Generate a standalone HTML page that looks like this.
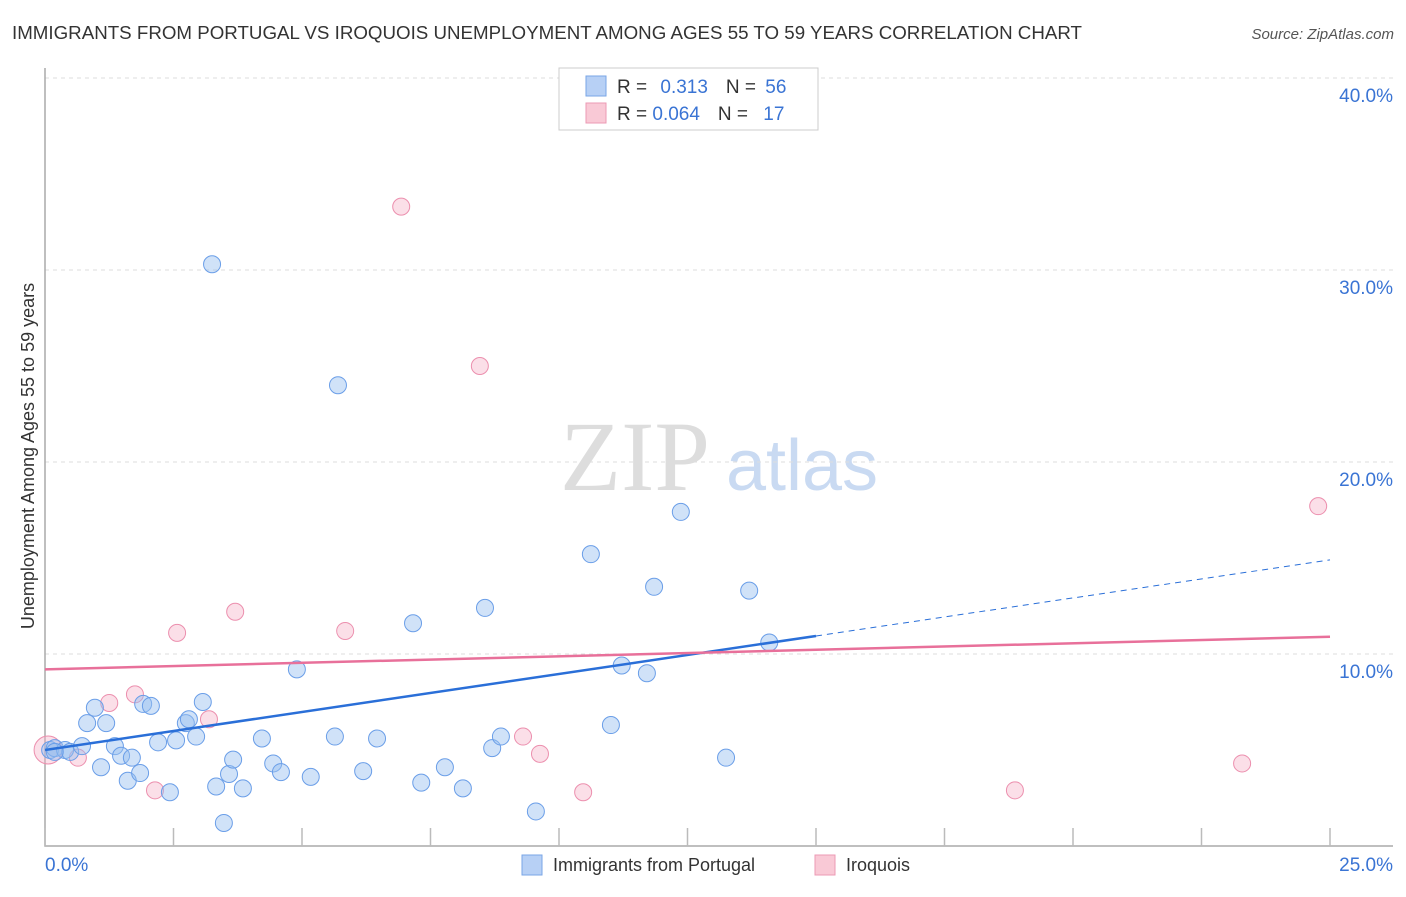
<!DOCTYPE html><html><head><meta charset="utf-8"><style>
body{margin:0;background:#fff;font-family:"Liberation Sans",sans-serif}
</style></head><body>
<svg id="c" width="1406" height="892" font-family="Liberation Sans, sans-serif">
<text x="12" y="39" font-size="18" fill="#333" textLength="1070" lengthAdjust="spacingAndGlyphs">IMMIGRANTS FROM PORTUGAL VS IROQUOIS UNEMPLOYMENT AMONG AGES 55 TO 59 YEARS CORRELATION CHART</text>
<text x="1394" y="39" font-size="15" fill="#555" text-anchor="end" font-style="italic">Source: ZipAtlas.com</text>
<text x="635" y="490" font-size="100" fill="#ddd" font-family="Liberation Serif, serif" text-anchor="middle">ZIP</text>
<text x="802" y="490" font-size="72" fill="#c9daf2" text-anchor="middle">atlas</text>
<text transform="translate(34,456) rotate(-90)" font-size="18" fill="#333" text-anchor="middle">Unemployment Among Ages 55 to 59 years</text>
<g id="grid"></g><g id="pts"></g><g id="lines"></g>
<g>
<rect x="559" y="68" width="259" height="62" fill="#fff" stroke="#ccc"/>
<rect x="586" y="76" width="20" height="20" fill="#b7d0f5" stroke="#7aa6e6"/>
<rect x="586" y="103" width="20" height="20" fill="#f9c9d6" stroke="#ec9ab4"/>
<text x="617" y="93" font-size="19" fill="#333">R = <tspan fill="#3a74d4" dx="8">0.313</tspan><tspan fill="#333" dx="18">N = </tspan><tspan fill="#3a74d4" dx="4">56</tspan></text>
<text x="617" y="120" font-size="19" fill="#333">R = <tspan fill="#3a74d4">0.064</tspan><tspan fill="#333" dx="18">N = </tspan><tspan fill="#3a74d4" dx="10">17</tspan></text>
</g>
<g>
<rect x="522" y="855" width="20" height="20" fill="#b7d0f5" stroke="#7aa6e6"/>
<text x="553" y="871" font-size="18" fill="#333">Immigrants from Portugal</text>
<rect x="815" y="855" width="20" height="20" fill="#f9c9d6" stroke="#ec9ab4"/>
<text x="846" y="871" font-size="18" fill="#333">Iroquois</text>
</g>
</svg>
<script>
const blueX=[0.10,0.19,0.39,0.49,0.72,0.97,0.82,1.19,1.09,1.36,1.48,1.69,1.61,1.85,1.91,2.06,2.20,2.43,2.55,2.74,2.80,2.94,3.07,3.25,3.33,3.48,3.58,3.66,3.85,4.22,4.44,4.59,4.90,5.17,5.64,5.70,6.19,6.46,7.16,7.32,7.78,8.13,8.56,8.70,8.87,9.55,10.62,11.01,11.22,11.71,11.85,12.37,13.25,13.70,14.09,0.19];
const blueY=[5.0,5.1,5.0,4.9,5.2,7.2,6.4,6.4,4.1,5.2,4.7,4.6,3.4,3.8,7.4,7.3,5.4,2.8,5.5,6.4,6.6,5.7,7.5,30.3,3.1,1.2,3.75,4.5,3.0,5.6,4.3,3.85,9.2,3.6,5.7,24.0,3.9,5.6,11.6,3.3,4.1,3.0,12.4,5.1,5.7,1.8,15.2,6.3,9.4,9.0,13.5,17.4,4.6,13.3,10.6,4.9];
const pinkX=[0.06,0.64,1.25,1.75,2.14,2.57,3.19,3.70,5.84,6.93,8.46,9.30,9.63,10.47,18.87,23.29,24.77];
const pinkY=[5.0,4.6,7.45,7.9,2.9,11.1,6.6,12.2,11.2,33.3,25.0,5.7,4.8,2.8,2.9,4.3,17.7];
const yTicks=[10,20,30,40];
const yTickLabels=["10.0%","20.0%","30.0%","40.0%"];
const xTicks=[0,2.5,5,7.5,10,12.5,15,17.5,20,22.5,25];
const blueTrend=[5.0,0.396];
const pinkTrend=[9.2,0.068];
const X=v=>45+v*1285/25, Y=v=>846-v*19.2;
const NS="http://www.w3.org/2000/svg";
function mk(tag,attrs,parent){const e=document.createElementNS(NS,tag);for(const k in attrs)e.setAttribute(k,attrs[k]);document.getElementById(parent).appendChild(e);return e;}
yTicks.forEach((t,i)=>{
 const g=mk('line',{x1:45,x2:1393,y1:Y(t),y2:Y(t),stroke:'#ddd','stroke-dasharray':'4,4'},'grid');
 
 
 const l=mk('text',{x:1393,y:Y(t)+24,'font-size':19,fill:'#3a74d4','text-anchor':'end'},'grid');
 l.textContent=yTickLabels[i];
 
 
});
const ax=mk('path',{d:'M45 68V846H1393',fill:'none',stroke:'#aaa','stroke-width':1.5},'grid');


xTicks.forEach(t=>{
 const k=mk('line',{x1:X(t),x2:X(t),y1:828,y2:846,stroke:'#bbb','stroke-width':1.5},'grid');
 
 
});
[[0,"0.0%","start",45],[25,"25.0%","end",1393]].forEach(a=>{
 const l=mk('text',{x:a[3],y:871,'font-size':19,fill:'#3a74d4','text-anchor':a[2]},'grid');
 l.textContent=a[1];
 
 
});
pinkX.forEach((x,i)=>{
 const c=mk('circle',{cx:X(x),cy:Y(pinkY[i]),r:i==0?14:8.5,fill:'rgba(245,175,198,0.4)',stroke:'#ec8fae','stroke-width':1},'pts');
 
 
});
blueX.forEach((x,i)=>{
 const c=mk('circle',{cx:X(x),cy:Y(blueY[i]),r:8.5,fill:'rgba(150,190,240,0.45)',stroke:'#6a9ee8','stroke-width':1},'pts');
 
 
});
const bt=v=>blueTrend[0]+blueTrend[1]*v, pt=v=>pinkTrend[0]+pinkTrend[1]*v;
let l1=mk('line',{x1:X(0),y1:Y(bt(0)),x2:X(15),y2:Y(bt(15)),stroke:'#2a6fd8','stroke-width':2.5},'lines');


let l2=mk('line',{x1:X(15),y1:Y(bt(15)),x2:X(25),y2:Y(bt(25)),stroke:'#2a6fd8','stroke-width':1,'stroke-dasharray':'6,5'},'lines');


let l3=mk('line',{x1:X(0),y1:Y(pt(0)),x2:X(25),y2:Y(pt(25)),stroke:'#e8709a','stroke-width':2.5},'lines');


</script>
</body></html>
